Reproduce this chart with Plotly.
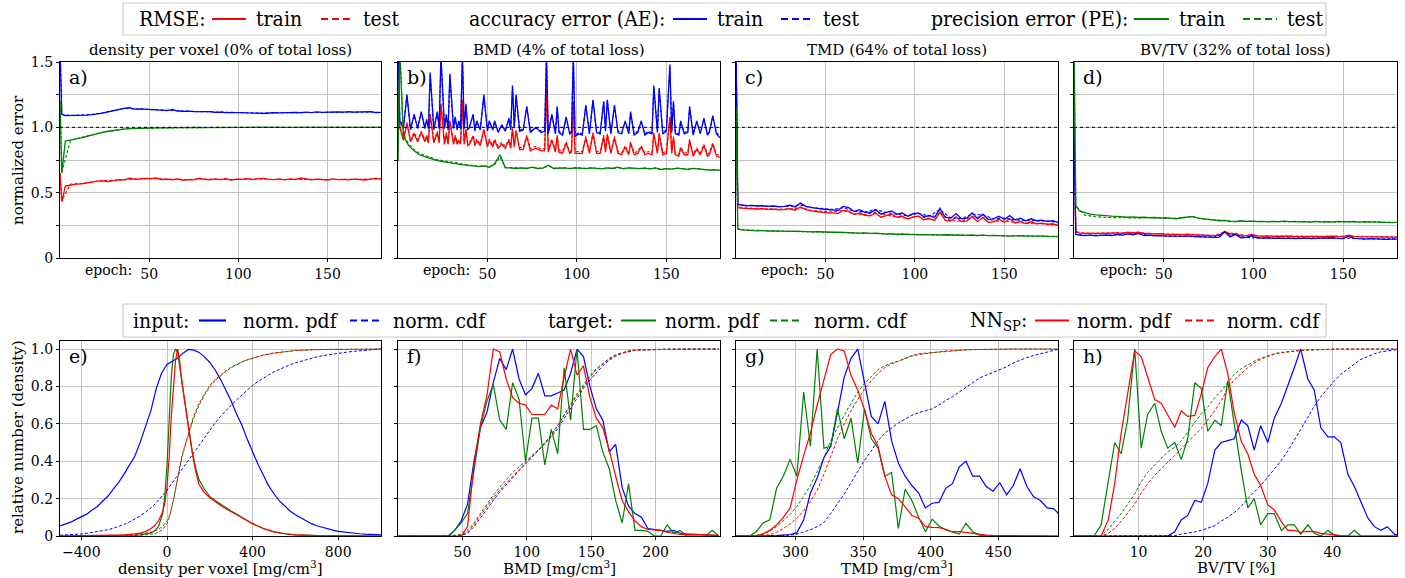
import plotly.graph_objects as go

W, H = 1405, 578

# ---------------- data: training curves (top row) ----------------
EPOCHS = [0, 1] + list(range(3, 181, 3))
EPOCHS_T = [0, 1] + list(range(6, 181, 6))

# panel a) density per voxel
RMSE_A_TRAIN = [0.65, 0.43, 0.55, 0.56, 0.565, 0.568, 0.575, 0.58, 0.588, 0.59, 0.585, 0.592, 0.6, 0.598, 0.61, 0.602, 0.605, 0.61, 0.607, 0.612, 0.6, 0.603, 0.598, 0.605, 0.595, 0.6, 0.598, 0.61, 0.602, 0.598, 0.605, 0.6, 0.608, 0.597, 0.604, 0.602, 0.608, 0.6, 0.605, 0.61, 0.602, 0.6, 0.606, 0.598, 0.605, 0.6, 0.612, 0.603, 0.598, 0.604, 0.6, 0.597, 0.605, 0.6, 0.602, 0.598, 0.604, 0.6, 0.597, 0.603, 0.61, 0.605]
RMSE_A_TEST = [0.65, 0.44, 0.566, 0.57, 0.582, 0.592, 0.594, 0.6, 0.604, 0.606, 0.608, 0.604, 0.603, 0.6, 0.605, 0.602, 0.601, 0.6, 0.603, 0.605, 0.606, 0.601, 0.602, 0.603, 0.604, 0.602, 0.6, 0.601, 0.6, 0.601, 0.603, 0.605]
AE_A_TRAIN = [1.62, 1.10, 1.09, 1.09, 1.088, 1.09, 1.093, 1.097, 1.10, 1.108, 1.118, 1.128, 1.138, 1.145, 1.15, 1.14, 1.142, 1.138, 1.136, 1.133, 1.132, 1.128, 1.137, 1.125, 1.122, 1.124, 1.12, 1.121, 1.118, 1.12, 1.115, 1.117, 1.112, 1.114, 1.111, 1.113, 1.11, 1.112, 1.109, 1.106, 1.11, 1.112, 1.11, 1.113, 1.111, 1.114, 1.112, 1.116, 1.113, 1.118, 1.115, 1.117, 1.114, 1.118, 1.116, 1.12, 1.117, 1.119, 1.116, 1.12, 1.113, 1.115]
AE_A_TEST = [1.6, 1.1, 1.09, 1.094, 1.099, 1.112, 1.13, 1.146, 1.141, 1.137, 1.134, 1.129, 1.124, 1.123, 1.12, 1.119, 1.116, 1.113, 1.112, 1.111, 1.108, 1.111, 1.112, 1.113, 1.115, 1.116, 1.116, 1.117, 1.118, 1.118, 1.117, 1.115]
PE_A_TRAIN = [1.2, 0.65, 0.895, 0.902, 0.91, 0.92, 0.93, 0.942, 0.953, 0.962, 0.97, 0.977, 0.983, 0.987, 0.99, 0.992, 0.993, 0.994, 0.995, 0.996, 0.996, 0.997, 0.997, 0.998, 0.997, 0.998, 0.998, 0.999, 0.998, 0.999, 0.999, 0.998, 0.999, 1.0, 0.999, 0.999, 1.0, 0.999, 1.0, 0.999, 1.0, 1.0, 0.999, 1.0, 0.999, 1.0, 1.0, 0.999, 1.0, 1.0, 0.999, 1.0, 1.0, 0.999, 1.0, 1.0, 0.999, 1.0, 1.0, 1.0, 1.0, 1.0]
PE_A_TEST = [1.2, 0.66, 0.903, 0.921, 0.943, 0.963, 0.978, 0.988, 0.992, 0.994, 0.996, 0.997, 0.997, 0.998, 0.998, 0.999, 0.999, 0.999, 0.999, 1.0, 1.0, 1.0, 0.999, 1.0, 1.0, 1.0, 1.0, 1.0, 0.999, 1.0, 1.0, 1.0]

# panel b) BMD  (irregular epoch grid so single-epoch spikes stay narrow)
B_EPOCHS = [0, 1, 3, 5, 7, 9, 11, 13, 15, 16,
            17, 18, 20, 22, 23, 24, 26, 27, 28, 29,
            31, 32, 33, 34, 35, 36, 37, 38, 39, 40,
            42, 43, 44, 46, 48, 50, 51, 53, 54, 56,
            58, 60, 62, 63, 64, 65, 66, 68, 70, 72,
            74, 77, 80, 82, 83, 84, 86, 88, 89, 90,
            92, 94, 96, 97, 98, 99, 101, 103, 105, 107,
            109, 111, 113, 115, 116, 117, 119, 121, 123, 125,
            127, 129, 130, 132, 134, 136, 138, 140, 142, 143,
            145, 146, 148, 150, 152, 153, 154, 155, 157, 158,
            160, 162, 163, 165, 167, 169, 171, 173, 174, 176,
            178, 180]
AE_B_TRAIN = [1.65, 1.05, 0.99, 1.25, 0.98, 1.1, 0.99, 1.12, 0.99, 1.06,
              0.99, 1.42, 0.98, 1.12, 0.99, 1.55, 0.99, 1.1, 0.98, 1.41,
              0.99, 1.08, 0.98, 1.05, 0.99, 1.55, 0.99, 1.18, 0.98, 1.0,
              1.1, 0.97, 1.05, 0.98, 1.25, 0.97, 1.05, 0.98, 1.05, 0.96,
              1.02, 0.97, 1.07, 0.98, 1.32, 1.0, 1.25, 0.97, 0.98, 1.16,
              0.96, 1.0, 0.96, 0.97, 1.55, 0.95, 1.1, 0.95, 1.16, 0.96,
              0.94, 1.08, 0.95, 0.96, 1.55, 0.93, 0.95, 0.94, 1.17, 0.95,
              1.21, 0.96, 0.95, 1.2, 0.97, 1.21, 0.95, 1.17, 0.96, 0.95,
              1.05, 0.95, 1.12, 0.94, 0.96, 1.05, 0.94, 0.96, 0.95, 1.32,
              0.96, 1.3, 0.95, 0.97, 1.48, 0.96, 1.2, 0.95, 0.94, 1.05,
              0.95, 0.96, 1.16, 0.94, 1.05, 0.95, 1.07, 0.94, 0.96, 1.09,
              0.95, 0.92]
AE_B_TEST = [1.65, 1.06, 1.0, 1.24, 0.99, 1.09, 1.0, 1.11, 1.0, 1.05,
             1.0, 1.4, 0.99, 1.11, 1.0, 1.53, 1.0, 1.09, 0.99, 1.39,
             1.0, 1.07, 0.99, 1.04, 1.0, 1.54, 1.0, 1.17, 0.99, 1.01,
             1.09, 0.98, 1.04, 0.99, 1.23, 0.98, 1.04, 0.99, 1.04, 0.97,
             1.01, 0.98, 1.06, 0.99, 1.3, 1.0, 1.24, 0.98, 0.99, 1.15,
             0.97, 1.0, 0.97, 0.98, 1.55, 0.96, 1.09, 0.96, 1.15, 0.97,
             0.95, 1.07, 0.96, 0.97, 1.55, 0.94, 0.96, 0.95, 1.16, 0.96,
             1.2, 0.97, 0.96, 1.19, 0.98, 1.2, 0.96, 1.16, 0.97, 0.96,
             1.04, 0.96, 1.11, 0.95, 0.97, 1.04, 0.95, 0.97, 0.96, 1.3,
             0.97, 1.28, 0.96, 0.98, 1.46, 0.97, 1.19, 0.96, 0.95, 1.04,
             0.96, 0.97, 1.15, 0.95, 1.04, 0.96, 1.06, 0.95, 0.97, 1.08,
             0.96, 0.93]
RMSE_B_TRAIN = [1.3, 1.0, 0.9, 1.03, 0.89, 0.95, 0.89, 0.96, 0.89, 0.93,
                0.88, 1.1, 0.88, 0.96, 0.88, 1.18, 0.87, 0.95, 0.87, 1.05,
                0.87, 0.93, 0.87, 0.9, 0.87, 1.21, 0.87, 0.98, 0.86, 0.87,
                0.93, 0.86, 0.9, 0.86, 0.98, 0.85, 0.9, 0.85, 0.9, 0.84,
                0.87, 0.84, 0.9, 0.84, 0.99, 0.85, 0.97, 0.83, 0.83, 0.93,
                0.82, 0.84, 0.82, 0.82, 1.29, 0.81, 0.9, 0.81, 0.93, 0.81,
                0.8, 0.88, 0.8, 0.81, 1.2, 0.8, 0.8, 0.8, 0.92, 0.8,
                0.95, 0.8, 0.8, 0.93, 0.81, 0.94, 0.8, 0.92, 0.8, 0.79,
                0.85, 0.79, 0.88, 0.79, 0.8, 0.85, 0.79, 0.8, 0.79, 0.95,
                0.8, 0.95, 0.79, 0.8, 1.08, 0.8, 0.92, 0.79, 0.78, 0.84,
                0.79, 0.79, 0.9, 0.78, 0.83, 0.79, 0.86, 0.78, 0.79, 0.87,
                0.78, 0.77]
RMSE_B_TEST = [1.3, 1.01, 0.915, 1.04, 0.905, 0.96, 0.905, 0.97, 0.905, 0.94,
               0.895, 1.1, 0.895, 0.97, 0.895, 1.18, 0.885, 0.96, 0.885, 1.05,
               0.885, 0.94, 0.885, 0.91, 0.885, 1.2, 0.885, 0.99, 0.875, 0.885,
               0.94, 0.875, 0.91, 0.875, 0.99, 0.865, 0.91, 0.865, 0.91, 0.855,
               0.885, 0.855, 0.91, 0.855, 0.99, 0.865, 0.98, 0.845, 0.845, 0.94,
               0.835, 0.855, 0.835, 0.835, 1.27, 0.825, 0.91, 0.825, 0.94, 0.825,
               0.815, 0.89, 0.815, 0.825, 1.19, 0.815, 0.815, 0.815, 0.93, 0.815,
               0.96, 0.815, 0.815, 0.94, 0.825, 0.95, 0.815, 0.93, 0.815, 0.805,
               0.86, 0.805, 0.89, 0.805, 0.815, 0.86, 0.805, 0.815, 0.805, 0.96,
               0.815, 0.96, 0.805, 0.815, 1.07, 0.815, 0.93, 0.805, 0.795, 0.85,
               0.805, 0.805, 0.91, 0.795, 0.84, 0.805, 0.87, 0.795, 0.805, 0.88,
               0.795, 0.785]
PE_B_TRAIN = [0.74, 1.6, 0.93, 0.86, 0.82, 0.79, 0.775, 0.76, 0.75, 0.74, 0.735, 0.728, 0.72, 0.712, 0.71, 0.705, 0.70, 0.705, 0.695, 0.72, 0.79, 0.69, 0.69, 0.685, 0.69, 0.685, 0.695, 0.685, 0.688, 0.71, 0.685, 0.688, 0.69, 0.684, 0.69, 0.688, 0.684, 0.69, 0.686, 0.682, 0.69, 0.685, 0.695, 0.683, 0.69, 0.686, 0.684, 0.688, 0.682, 0.69, 0.676, 0.684, 0.68, 0.688, 0.682, 0.678, 0.686, 0.68, 0.678, 0.672, 0.675, 0.67]
PE_B_TEST = [0.74, 1.6, 0.95, 0.87, 0.83, 0.8, 0.785, 0.77, 0.758, 0.748, 0.74, 0.733, 0.725, 0.717, 0.713, 0.708, 0.703, 0.706, 0.698, 0.715, 0.77, 0.693, 0.692, 0.688, 0.691, 0.687, 0.694, 0.687, 0.689, 0.705, 0.687, 0.689, 0.69, 0.686, 0.69, 0.688, 0.686, 0.69, 0.687, 0.684, 0.689, 0.686, 0.692, 0.685, 0.689, 0.686, 0.685, 0.688, 0.684, 0.688, 0.679, 0.684, 0.681, 0.687, 0.682, 0.679, 0.685, 0.68, 0.679, 0.674, 0.676, 0.672]

# panel c) TMD
RMSE_C_TRAIN = [1.6, 0.385, 0.382, 0.378, 0.379, 0.375, 0.377, 0.372, 0.374, 0.368, 0.37, 0.378, 0.366, 0.39, 0.37, 0.36, 0.356, 0.35, 0.346, 0.345, 0.34, 0.365, 0.358, 0.332, 0.345, 0.327, 0.322, 0.345, 0.312, 0.325, 0.335, 0.312, 0.32, 0.298, 0.315, 0.32, 0.293, 0.302, 0.288, 0.35, 0.288, 0.283, 0.315, 0.278, 0.282, 0.318, 0.278, 0.31, 0.273, 0.277, 0.297, 0.272, 0.3, 0.268, 0.28, 0.263, 0.277, 0.262, 0.267, 0.257, 0.262, 0.248]
RMSE_C_TEST = [1.6, 0.39, 0.383, 0.378, 0.376, 0.374, 0.375, 0.385, 0.366, 0.358, 0.352, 0.364, 0.338, 0.332, 0.35, 0.328, 0.316, 0.302, 0.32, 0.302, 0.35, 0.286, 0.282, 0.315, 0.31, 0.28, 0.285, 0.272, 0.267, 0.265, 0.26, 0.252]
AE_C_TRAIN = [1.65, 0.41, 0.405, 0.40, 0.402, 0.398, 0.40, 0.395, 0.398, 0.392, 0.395, 0.405, 0.39, 0.42, 0.395, 0.385, 0.38, 0.375, 0.37, 0.37, 0.365, 0.395, 0.385, 0.355, 0.37, 0.35, 0.345, 0.37, 0.335, 0.35, 0.36, 0.335, 0.345, 0.32, 0.34, 0.345, 0.315, 0.325, 0.31, 0.38, 0.31, 0.305, 0.34, 0.30, 0.305, 0.345, 0.30, 0.335, 0.295, 0.30, 0.32, 0.295, 0.325, 0.29, 0.305, 0.285, 0.30, 0.285, 0.29, 0.28, 0.285, 0.27]
AE_C_TEST = [1.65, 0.41, 0.402, 0.398, 0.396, 0.394, 0.395, 0.405, 0.386, 0.378, 0.372, 0.385, 0.358, 0.352, 0.37, 0.348, 0.336, 0.322, 0.34, 0.322, 0.37, 0.306, 0.302, 0.335, 0.33, 0.3, 0.305, 0.292, 0.287, 0.287, 0.282, 0.274]
PE_C_TRAIN = [1.15, 0.222, 0.215, 0.212, 0.21, 0.208, 0.21, 0.206, 0.208, 0.205, 0.207, 0.204, 0.206, 0.203, 0.205, 0.2, 0.202, 0.199, 0.2, 0.197, 0.198, 0.195, 0.196, 0.193, 0.19, 0.192, 0.188, 0.19, 0.186, 0.183, 0.185, 0.18, 0.182, 0.179, 0.181, 0.177, 0.179, 0.176, 0.178, 0.175, 0.178, 0.176, 0.174, 0.177, 0.173, 0.176, 0.172, 0.175, 0.171, 0.173, 0.17, 0.172, 0.168, 0.17, 0.172, 0.167, 0.169, 0.166, 0.168, 0.165, 0.167, 0.164]
PE_C_TEST = [1.15, 0.222, 0.215, 0.21, 0.207, 0.205, 0.204, 0.203, 0.2, 0.198, 0.196, 0.194, 0.19, 0.188, 0.186, 0.184, 0.182, 0.18, 0.178, 0.178, 0.176, 0.176, 0.175, 0.174, 0.173, 0.172, 0.171, 0.17, 0.169, 0.168, 0.167, 0.166]

# panel d) BV/TV
RMSE_D_TRAIN = [1.0, 0.2, 0.19, 0.188, 0.19, 0.186, 0.188, 0.19, 0.187, 0.193, 0.189, 0.197, 0.19, 0.198, 0.186, 0.188, 0.184, 0.186, 0.182, 0.184, 0.181, 0.179, 0.183, 0.178, 0.176, 0.174, 0.176, 0.172, 0.174, 0.205, 0.173, 0.188, 0.17, 0.172, 0.18, 0.169, 0.167, 0.17, 0.165, 0.167, 0.165, 0.167, 0.164, 0.165, 0.167, 0.163, 0.165, 0.163, 0.166, 0.168, 0.165, 0.163, 0.175, 0.165, 0.163, 0.161, 0.163, 0.161, 0.162, 0.159, 0.16, 0.16]
RMSE_D_TEST = [1.0, 0.202, 0.19, 0.188, 0.19, 0.192, 0.196, 0.197, 0.187, 0.185, 0.183, 0.18, 0.178, 0.175, 0.173, 0.2, 0.187, 0.171, 0.169, 0.169, 0.167, 0.166, 0.165, 0.165, 0.164, 0.166, 0.165, 0.165, 0.163, 0.162, 0.161, 0.161]
AE_D_TRAIN = [1.0, 0.18, 0.175, 0.172, 0.175, 0.17, 0.173, 0.176, 0.172, 0.18, 0.175, 0.185, 0.178, 0.188, 0.172, 0.175, 0.17, 0.172, 0.168, 0.17, 0.168, 0.165, 0.17, 0.165, 0.163, 0.16, 0.162, 0.158, 0.16, 0.2, 0.16, 0.18, 0.155, 0.158, 0.17, 0.155, 0.152, 0.155, 0.15, 0.153, 0.15, 0.152, 0.148, 0.15, 0.152, 0.148, 0.15, 0.148, 0.152, 0.155, 0.15, 0.148, 0.165, 0.15, 0.148, 0.145, 0.148, 0.145, 0.147, 0.143, 0.145, 0.145]
AE_D_TEST = [1.0, 0.182, 0.174, 0.172, 0.174, 0.178, 0.184, 0.186, 0.174, 0.171, 0.169, 0.166, 0.166, 0.161, 0.159, 0.195, 0.178, 0.157, 0.154, 0.154, 0.152, 0.151, 0.15, 0.149, 0.149, 0.152, 0.15, 0.151, 0.147, 0.146, 0.145, 0.146]
PE_D_TRAIN = [1.65, 0.40, 0.36, 0.345, 0.335, 0.33, 0.325, 0.322, 0.32, 0.318, 0.315, 0.312, 0.315, 0.31, 0.312, 0.308, 0.31, 0.305, 0.308, 0.305, 0.30, 0.308, 0.312, 0.318, 0.305, 0.30, 0.295, 0.29, 0.285, 0.288, 0.28, 0.278, 0.285, 0.28, 0.282, 0.278, 0.28, 0.276, 0.28, 0.278, 0.282, 0.278, 0.28, 0.276, 0.279, 0.275, 0.28, 0.277, 0.279, 0.275, 0.28, 0.278, 0.276, 0.28, 0.275, 0.278, 0.276, 0.273, 0.276, 0.272, 0.27, 0.272]
PE_D_TEST = [1.65, 0.4, 0.328, 0.316, 0.31, 0.308, 0.306, 0.306, 0.31, 0.306, 0.304, 0.306, 0.316, 0.298, 0.29, 0.286, 0.28, 0.282, 0.28, 0.279, 0.279, 0.279, 0.277, 0.277, 0.278, 0.277, 0.279, 0.277, 0.276, 0.275, 0.274, 0.272]

# ---------------- data: distributions (bottom row) ----------------
# e) density per voxel
E_X_IN = list(range(-500, 1001, 25))
E_IN_PDF = [0.054, 0.064, 0.074, 0.089, 0.101, 0.117, 0.139, 0.158, 0.187, 0.214, 0.252, 0.288, 0.332, 0.378, 0.428, 0.502, 0.588, 0.672, 0.79, 0.872, 0.918, 0.935, 0.952, 0.978, 0.998, 0.994, 0.982, 0.958, 0.928, 0.888, 0.838, 0.779, 0.722, 0.652, 0.592, 0.518, 0.448, 0.384, 0.326, 0.268, 0.226, 0.188, 0.161, 0.134, 0.114, 0.097, 0.081, 0.066, 0.055, 0.046, 0.038, 0.031, 0.025, 0.021, 0.017, 0.014, 0.012, 0.01, 0.008, 0.007, 0.006]
E_IN_CDF = [0.004, 0.005, 0.007, 0.009, 0.011, 0.014, 0.018, 0.022, 0.028, 0.034, 0.042, 0.051, 0.062, 0.075, 0.09, 0.108, 0.128, 0.15, 0.178, 0.21, 0.245, 0.285, 0.325, 0.367, 0.41, 0.45, 0.49, 0.53, 0.57, 0.605, 0.64, 0.672, 0.70, 0.728, 0.755, 0.78, 0.806, 0.826, 0.845, 0.862, 0.878, 0.892, 0.905, 0.916, 0.926, 0.935, 0.943, 0.951, 0.958, 0.964, 0.969, 0.974, 0.978, 0.982, 0.985, 0.988, 0.991, 0.993, 0.995, 0.997, 1.0]
E_X_NN = [-500, -300, -200, -150, -125, -100, -80, -60, -40, -20, -10, 0, 10, 20, 30, 40, 50, 60, 70, 80, 90, 100, 110, 120, 135, 150, 175, 200, 225, 250, 275, 300, 325, 350, 375, 400, 450, 500, 550, 600, 700, 800, 1000]
E_TG_PDF = [0, 0, 0.002, 0.004, 0.006, 0.01, 0.015, 0.025, 0.05, 0.12, 0.22, 0.38, 0.62, 0.85, 0.97, 1.0, 0.98, 0.9, 0.8, 0.73, 0.665, 0.59, 0.51, 0.44, 0.36, 0.3, 0.25, 0.212, 0.19, 0.17, 0.152, 0.134, 0.118, 0.1, 0.083, 0.066, 0.04, 0.022, 0.012, 0.006, 0.002, 0.001, 0.0]
E_TG_CDF = [0, 0, 0.001, 0.002, 0.004, 0.006, 0.009, 0.012, 0.02, 0.035, 0.05, 0.065, 0.095, 0.14, 0.195, 0.25, 0.31, 0.37, 0.42, 0.462, 0.503, 0.54, 0.58, 0.615, 0.66, 0.70, 0.752, 0.797, 0.832, 0.858, 0.88, 0.9, 0.916, 0.93, 0.942, 0.951, 0.967, 0.978, 0.986, 0.992, 0.997, 0.999, 1.0]
E_NN_PDF = [0, 0.002, 0.006, 0.011, 0.015, 0.025, 0.036, 0.052, 0.08, 0.13, 0.18, 0.26, 0.42, 0.64, 0.82, 0.94, 1.0, 0.93, 0.82, 0.74, 0.665, 0.575, 0.5, 0.43, 0.34, 0.275, 0.232, 0.205, 0.185, 0.163, 0.146, 0.13, 0.113, 0.097, 0.081, 0.066, 0.04, 0.022, 0.012, 0.006, 0.002, 0.001, 0.0]
E_NN_CDF = [0, 0.001, 0.004, 0.007, 0.01, 0.014, 0.019, 0.026, 0.036, 0.052, 0.064, 0.08, 0.105, 0.14, 0.19, 0.25, 0.32, 0.385, 0.43, 0.47, 0.51, 0.55, 0.59, 0.625, 0.67, 0.71, 0.76, 0.805, 0.838, 0.862, 0.884, 0.903, 0.918, 0.932, 0.943, 0.952, 0.968, 0.979, 0.987, 0.992, 0.997, 0.999, 1.0]

# f) BMD
F_X = [0] + list(range(39, 250, 5))
F_IN_PDF = [0, 0.0, 0.03, 0.08, 0.17, 0.40, 0.58, 0.66, 0.82, 0.95, 0.89, 1.0, 0.84, 0.755, 0.79, 0.87, 0.75, 0.75, 0.765, 0.78, 0.87, 1.0, 0.96, 0.80, 0.68, 0.62, 0.45, 0.49, 0.26, 0.16, 0.12, 0.10, 0.04, 0.035, 0.033, 0.025, 0.03, 0.015, 0.012, 0.01, 0.007, 0.005, 0.003, 0.002]
F_IN_CDF = [0, 0, 0.001, 0.003, 0.015, 0.05, 0.095, 0.145, 0.19, 0.235, 0.275, 0.315, 0.35, 0.385, 0.42, 0.455, 0.49, 0.53, 0.575, 0.63, 0.685, 0.74, 0.79, 0.835, 0.875, 0.91, 0.94, 0.962, 0.977, 0.987, 0.993, 0.996, 0.997, 0.998, 0.998, 0.999, 0.999, 1.0, 1.0, 1.0, 1.0, 1.0, 1.0, 1.0]
F_TG_PDF = [0, 0, 0.03, 0.07, 0.12, 0.36, 0.58, 0.72, 0.81, 0.62, 0.57, 0.82, 0.73, 0.40, 0.63, 0.63, 0.38, 0.57, 0.44, 0.90, 0.62, 1.0, 0.57, 0.57, 0.59, 0.45, 0.36, 0.19, 0.07, 0.28, 0.03, 0.03, 0.025, 0.0, 0.0, 0.06, 0.015, 0.03, 0.0, 0.0, 0.0, 0.0, 0.03, 0.0]
F_TG_CDF = [0, 0, 0.002, 0.01, 0.03, 0.07, 0.12, 0.175, 0.22, 0.26, 0.30, 0.34, 0.37, 0.40, 0.43, 0.46, 0.50, 0.54, 0.59, 0.65, 0.705, 0.76, 0.81, 0.857, 0.895, 0.925, 0.95, 0.97, 0.982, 0.99, 0.994, 0.996, 0.997, 0.998, 0.998, 0.999, 0.999, 1.0, 1.0, 1.0, 1.0, 1.0, 1.0, 1.0]
F_NN_PDF = [0, 0, 0, 0.0, 0.05, 0.38, 0.60, 0.75, 1.0, 0.985, 0.84, 0.74, 0.71, 0.70, 0.65, 0.65, 0.65, 0.70, 0.68, 0.85, 1.0, 0.86, 0.91, 0.74, 0.63, 0.58, 0.46, 0.32, 0.19, 0.13, 0.08, 0.05, 0.035, 0.033, 0.03, 0.02, 0.012, 0.008, 0.007, 0.009, 0.008, 0.006, 0.004, 0.003]
F_NN_CDF = [0, 0, 0.001, 0.004, 0.02, 0.06, 0.11, 0.16, 0.205, 0.245, 0.285, 0.32, 0.355, 0.39, 0.425, 0.46, 0.495, 0.54, 0.59, 0.645, 0.70, 0.75, 0.80, 0.85, 0.89, 0.92, 0.947, 0.967, 0.98, 0.989, 0.994, 0.996, 0.997, 0.998, 0.998, 0.999, 0.999, 1.0, 1.0, 1.0, 1.0, 1.0, 1.0, 1.0]

# g) TMD
G_X = list(range(256, 497, 5))
G_IN_PDF = [0, 0, 0, 0, 0, 0, 0.002, 0.005, 0.008, 0.018, 0.086, 0.23, 0.31, 0.42, 0.48, 0.66, 0.85, 0.95, 1.0, 0.82, 0.64, 0.60, 0.72, 0.51, 0.39, 0.32, 0.27, 0.23, 0.15, 0.175, 0.18, 0.255, 0.28, 0.37, 0.40, 0.32, 0.32, 0.265, 0.24, 0.285, 0.22, 0.27, 0.36, 0.265, 0.21, 0.19, 0.15, 0.145, 0.107]
G_IN_CDF = [0, 0, 0, 0, 0, 0, 0.001, 0.002, 0.004, 0.01, 0.02, 0.033, 0.05, 0.072, 0.12, 0.17, 0.225, 0.285, 0.345, 0.405, 0.455, 0.51, 0.55, 0.58, 0.605, 0.625, 0.645, 0.66, 0.67, 0.68, 0.70, 0.725, 0.745, 0.77, 0.795, 0.82, 0.845, 0.86, 0.875, 0.89, 0.905, 0.925, 0.94, 0.955, 0.965, 0.975, 0.985, 0.993, 1.0]
G_TG_PDF = [0, 0, 0, 0.023, 0.07, 0.086, 0.255, 0.32, 0.41, 0.32, 0.77, 0.48, 1.0, 0.47, 0.48, 0.68, 0.52, 0.63, 0.39, 0.68, 0.52, 0.47, 0.32, 0.34, 0.04, 0.25, 0.19, 0.10, 0.023, 0.09, 0.054, 0.032, 0.023, 0.01, 0.068, 0.023, 0.005, 0, 0, 0, 0, 0, 0, 0, 0, 0, 0, 0, 0]
G_TG_CDF = [0, 0, 0, 0.003, 0.012, 0.025, 0.05, 0.08, 0.115, 0.157, 0.21, 0.27, 0.345, 0.42, 0.51, 0.58, 0.645, 0.71, 0.77, 0.815, 0.855, 0.89, 0.91, 0.925, 0.935, 0.95, 0.965, 0.975, 0.978, 0.982, 0.985, 0.99, 0.992, 0.993, 0.995, 0.997, 0.998, 0.999, 0.999, 1.0, 1.0, 1.0, 1.0, 1.0, 1.0, 1.0, 1.0, 1.0, 1.0]
G_NN_PDF = [0, 0, 0, 0.002, 0.01, 0.03, 0.06, 0.10, 0.15, 0.30, 0.43, 0.55, 0.70, 0.84, 0.97, 1.0, 0.99, 0.86, 0.78, 0.675, 0.55, 0.48, 0.32, 0.22, 0.20, 0.157, 0.11, 0.095, 0.05, 0.046, 0.045, 0.036, 0.023, 0.023, 0.018, 0.011, 0.007, 0.005, 0.003, 0.002, 0.002, 0.001, 0.001, 0.001, 0.001, 0.0, 0.001, 0.0, 0.0]
G_NN_CDF = [0, 0, 0, 0, 0.002, 0.007, 0.02, 0.04, 0.065, 0.095, 0.135, 0.185, 0.245, 0.33, 0.43, 0.52, 0.60, 0.67, 0.73, 0.785, 0.83, 0.87, 0.90, 0.92, 0.935, 0.95, 0.962, 0.97, 0.976, 0.981, 0.985, 0.989, 0.992, 0.994, 0.996, 0.997, 0.998, 0.999, 0.999, 1.0, 1.0, 1.0, 1.0, 1.0, 1.0, 1.0, 1.0, 1.0, 1.0]

# h) BV/TV
H_X = [0, 1.0, 2.1, 3.1, 4.2, 5.3, 6.3, 7.3, 8.3, 9.4, 10.4, 11.4, 12.5, 13.5, 14.5, 15.6, 16.6, 17.6, 18.7, 19.7, 20.7, 21.8, 22.8, 23.8, 24.8, 25.9, 26.9, 27.9, 28.9, 30.0, 31.0, 32.1, 33.1, 34.1, 35.1, 36.2, 37.2, 38.2, 39.3, 40.3, 41.3, 42.4, 43.4, 44.4, 45.5, 46.5, 47.5, 48.5, 49.6, 50.6]
H_IN_PDF = [0, 0, 0, 0, 0, 0, 0, 0, 0, 0, 0, 0, 0, 0, 0, 0.023, 0.086, 0.11, 0.19, 0.18, 0.28, 0.46, 0.50, 0.51, 0.52, 0.62, 0.59, 0.46, 0.59, 0.50, 0.63, 0.71, 0.80, 0.90, 1.0, 0.84, 0.78, 0.58, 0.53, 0.53, 0.50, 0.33, 0.265, 0.18, 0.095, 0.05, 0.03, 0.05, 0.01, 0.0]
H_IN_CDF = [0, 0, 0, 0, 0, 0, 0, 0, 0, 0, 0, 0, 0, 0, 0, 0.002, 0.01, 0.015, 0.022, 0.03, 0.04, 0.055, 0.08, 0.1, 0.125, 0.16, 0.2, 0.235, 0.27, 0.315, 0.355, 0.405, 0.455, 0.51, 0.57, 0.635, 0.695, 0.745, 0.79, 0.83, 0.865, 0.895, 0.92, 0.945, 0.96, 0.975, 0.985, 0.99, 0.997, 1.0]
H_TG_PDF = [0, 0, 0, 0, 0.06, 0.28, 0.50, 0.44, 0.62, 1.0, 0.47, 0.65, 0.71, 0.56, 0.47, 0.50, 0.41, 0.52, 0.82, 0.79, 0.56, 0.62, 0.59, 0.83, 0.59, 0.35, 0.15, 0.20, 0.06, 0.12, 0.12, 0.03, 0.06, 0.06, 0.01, 0.06, 0.014, 0.0, 0.03, 0.005, 0, 0, 0.03, 0, 0, 0, 0, 0, 0, 0]
H_TG_CDF = [0, 0, 0, 0, 0.0, 0.036, 0.077, 0.12, 0.17, 0.225, 0.29, 0.34, 0.38, 0.415, 0.45, 0.475, 0.51, 0.555, 0.61, 0.655, 0.69, 0.74, 0.775, 0.82, 0.865, 0.895, 0.915, 0.935, 0.95, 0.965, 0.975, 0.982, 0.986, 0.989, 0.992, 0.994, 0.996, 0.997, 0.998, 0.999, 1.0, 1.0, 1.0, 1.0, 1.0, 1.0, 1.0, 1.0, 1.0, 1.0]
H_NN_PDF = [0, 0, 0, 0, 0, 0.086, 0.28, 0.55, 0.75, 0.99, 0.96, 0.85, 0.73, 0.71, 0.65, 0.58, 0.67, 0.64, 0.645, 0.76, 0.90, 0.96, 1.0, 0.87, 0.66, 0.505, 0.44, 0.33, 0.27, 0.166, 0.14, 0.077, 0.03, 0.03, 0.02, 0.025, 0.023, 0.014, 0.01, 0.005, 0.002, 0, 0, 0, 0, 0, 0, 0, 0, 0]
H_NN_CDF = [0, 0, 0, 0, 0, 0.014, 0.04, 0.08, 0.12, 0.17, 0.23, 0.28, 0.325, 0.36, 0.395, 0.43, 0.465, 0.5, 0.54, 0.575, 0.62, 0.67, 0.725, 0.79, 0.835, 0.87, 0.9, 0.925, 0.945, 0.96, 0.972, 0.98, 0.985, 0.99, 0.993, 0.995, 0.997, 0.998, 0.999, 1.0, 1.0, 1.0, 1.0, 1.0, 1.0, 1.0, 1.0, 1.0, 1.0, 1.0]

TOP_TITLES = ["density per voxel (0% of total loss)", "BMD (4% of total loss)",
              "TMD (64% of total loss)", "BV/TV (32% of total loss)"]
BOT_XLABELS = ["density per voxel [mg/cm<sup>3</sup>]", "BMD [mg/cm<sup>3</sup>]",
               "TMD [mg/cm<sup>3</sup>]", "BV/TV [%]"]
TOP_LETTERS = ["a)", "b)", "c)", "d)"]
BOT_LETTERS = ["e)", "f)", "g)", "h)"]
TOP_XTICKS = [50, 100, 150]
BOT_XTICKS = [[-400, 0, 400, 800], [50, 100, 150, 200], [300, 350, 400, 450], [10, 20, 30, 40]]
BOT_XRANGES = [[-500, 1000], [0, 250], [256, 494], [0, 50]]
TOP_YTICKS = [0, 0.25, 0.5, 0.75, 1.0, 1.25, 1.5]
TOP_YTEXT = ["0", "", "0.5", "", "1.0", "", "1.5"]
BOT_YTICKS = [0, 0.2, 0.4, 0.6, 0.8, 1.0]
BOT_YTEXT = ["0", "0.2", "0.4", "0.6", "0.8", "1.0"]

# ---------------- styling / layout ----------------
RED, BLUE, GREEN = "#ff0000", "#0000ff", "#008000"
FONT = "DejaVu Serif"
LFONT = "DejaVu Serif Condensed, Liberation Serif, serif"
GRID = "#c4c4c4"

# positions in window pixels
COLS = [(60, 381), (398, 720), (736, 1058), (1074, 1397)]
TOP_Y = (62, 258)
BOT_Y = (341, 536)


def px(x):
    return x / W


def py(y):
    return 1 - y / H


fig = go.Figure()


def line(i, x, y, color, dash="solid", width=1.3):
    fig.add_trace(go.Scatter(
        x=x, y=y, mode="lines", showlegend=False, hoverinfo="skip",
        line=dict(color=color, width=width, dash=dash),
        xaxis="x" if i == 1 else f"x{i}", yaxis="y" if i == 1 else f"y{i}"))


TD = "3px,2px"
top_series = [
    (EPOCHS, EPOCHS_T, RMSE_A_TRAIN, RMSE_A_TEST, AE_A_TRAIN, AE_A_TEST, EPOCHS, EPOCHS_T, PE_A_TRAIN, PE_A_TEST),
    (B_EPOCHS, B_EPOCHS, RMSE_B_TRAIN, RMSE_B_TEST, AE_B_TRAIN, AE_B_TEST, EPOCHS, EPOCHS, PE_B_TRAIN, PE_B_TEST),
    (EPOCHS, EPOCHS_T, RMSE_C_TRAIN, RMSE_C_TEST, AE_C_TRAIN, AE_C_TEST, EPOCHS, EPOCHS_T, PE_C_TRAIN, PE_C_TEST),
    (EPOCHS, EPOCHS_T, RMSE_D_TRAIN, RMSE_D_TEST, AE_D_TRAIN, AE_D_TEST, EPOCHS, EPOCHS_T, PE_D_TRAIN, PE_D_TEST),
]
for k, (e1, e2, rtr, rte, atr, ate, pe1, pe2, ptr, pte) in enumerate(top_series):
    i = k + 1
    line(i, e1, rtr, RED)
    line(i, e2, rte, RED, TD, 1.1)
    line(i, e1, atr, BLUE)
    line(i, e2, ate, BLUE, TD, 1.1)
    line(i, pe1, ptr, GREEN)
    line(i, pe2, pte, GREEN, TD, 1.1)

bot_series = [
    (E_X_IN, E_IN_PDF, E_IN_CDF, E_X_NN, E_TG_PDF, E_TG_CDF, E_NN_PDF, E_NN_CDF),
    (F_X, F_IN_PDF, F_IN_CDF, F_X, F_TG_PDF, F_TG_CDF, F_NN_PDF, F_NN_CDF),
    (G_X, G_IN_PDF, G_IN_CDF, G_X, G_TG_PDF, G_TG_CDF, G_NN_PDF, G_NN_CDF),
    (H_X, H_IN_PDF, H_IN_CDF, H_X, H_TG_PDF, H_TG_CDF, H_NN_PDF, H_NN_CDF),
]
for k, (xin, ipdf, icdf, xnn, tpdf, tcdf, npdf, ncdf) in enumerate(bot_series):
    i = k + 5
    line(i, xin, ipdf, BLUE, width=1.2)
    line(i, xin, icdf, BLUE, TD, 1.0)
    line(i, xnn, tpdf, GREEN, width=1.2)
    line(i, xnn, tcdf, GREEN, TD, 1.0)
    line(i, xnn, npdf, RED, width=1.2)
    line(i, xnn, ncdf, RED, TD, 1.0)

axis_common = dict(showline=True, linecolor="black", linewidth=1.3, mirror=True,
                   showgrid=True, gridcolor=GRID, gridwidth=1.2, zeroline=False,
                   ticks="outside", ticklen=3, tickcolor="black", automargin=False,
                   tickfont=dict(family=FONT, size=14, color="black"))

layout = dict(width=W, height=H, margin=dict(l=0, r=0, t=0, b=0, pad=0, autoexpand=False),
              paper_bgcolor="white", plot_bgcolor="white", showlegend=False)

shapes = []
annotations = []


def note(text, x, y, size=15, xanchor="center", yanchor="middle", angle=0, family=FONT):
    annotations.append(dict(text=text, x=px(x), y=py(y), xref="paper", yref="paper",
                            xanchor=xanchor, yanchor=yanchor, textangle=angle, showarrow=False,
                            font=dict(family=family, size=size, color="black")))


for k in range(4):
    x0, x1 = COLS[k]
    # top
    i = k + 1
    xa = "xaxis" if i == 1 else f"xaxis{i}"
    ya = "yaxis" if i == 1 else f"yaxis{i}"
    layout[xa] = dict(axis_common, domain=[px(x0), px(x1)], range=[0, 180],
                      tickvals=TOP_XTICKS, anchor="y" if i == 1 else f"y{i}")
    layout[ya] = dict(axis_common, domain=[py(TOP_Y[1]), py(TOP_Y[0])], range=[0, 1.5],
                      tickvals=TOP_YTICKS,
                      ticktext=TOP_YTEXT if k == 0 else [""] * len(TOP_YTICKS),
                      anchor="x" if i == 1 else f"x{i}")
    shapes.append(dict(type="line", xref=("x" if i == 1 else f"x{i}") + " domain", x0=0, x1=1,
                       yref="y" if i == 1 else f"y{i}", y0=1, y1=1,
                       line=dict(color="black", width=1, dash="dot"), layer="above"))
    note(TOP_TITLES[k], (x0 + x1) / 2, 50)
    note(TOP_LETTERS[k], x0 + 7, 77, size=19, xanchor="left")
    tick50 = x0 + (x1 - x0) * 50 / 180
    note("epoch:", tick50 - 15, 270, size=14, xanchor="right")
    # bottom
    i = k + 5
    xa, ya = f"xaxis{i}", f"yaxis{i}"
    layout[xa] = dict(axis_common, domain=[px(x0), px(x1)], range=BOT_XRANGES[k],
                      tickvals=BOT_XTICKS[k], anchor=f"y{i}")
    layout[ya] = dict(axis_common, domain=[py(BOT_Y[1]), py(BOT_Y[0])], range=[0, 1.043],
                      tickvals=BOT_YTICKS,
                      ticktext=BOT_YTEXT if k == 0 else [""] * len(BOT_YTICKS),
                      anchor=f"x{i}")
    note(BOT_XLABELS[k], (x0 + x1) / 2, 568)
    note(BOT_LETTERS[k], x0 + 7, 356, size=19, xanchor="left")

note("normalized error", 18, 160, angle=-90)
note("relative number (density)", 18, 437, angle=-90)


# ---------------- legends ----------------
def legend_box(y0, y1, texts, samples):
    shapes.append(dict(type="rect", xref="paper", yref="paper", x0=px(123), x1=px(1326),
                       y0=py(y1), y1=py(y0), line=dict(color="#cccccc", width=1.2),
                       fillcolor="white", layer="above"))
    yc = (y0 + y1) / 2
    for xl, t in texts:
        note(t, xl, yc, size=21, xanchor="left", family=LFONT)
    for xa_, xb_, c, d in samples:
        shapes.append(dict(type="line", xref="paper", yref="paper", x0=px(xa_), x1=px(xb_),
                           y0=py(yc), y1=py(yc), layer="above",
                           line=dict(color=c, width=2.2, dash=("solid" if d == "s" else "7px,4px"))))


legend_box(3, 35,
           [(137, "RMSE:"), (254, "train"), (361, "test"),
            (467, "accuracy error (AE):"), (715, "train"), (821, "test"),
            (929, "precision error (PE):"), (1177, "train"), (1285, "test")],
           [(212, 246, RED, "s"), (321, 353, RED, "d"),
            (673, 707, BLUE, "s"), (781, 813, BLUE, "d"),
            (1134, 1169, GREEN, "s"), (1243, 1277, GREEN, "d")])
legend_box(304, 337,
           [(131, "input:"), (241, "norm. pdf"), (391, "norm. cdf"),
            (546, "target:"), (663, "norm. pdf"), (812, "norm. cdf"),
            (968, "NN<sub>SP</sub>:"), (1075, "norm. pdf"), (1225, "norm. cdf")],
           [(199, 226, BLUE, "s"), (350, 381, BLUE, "d"),
            (621, 656, GREEN, "s"), (770, 803, GREEN, "d"),
            (1035, 1069, RED, "s"), (1185, 1217, RED, "d")])

layout["shapes"] = shapes
layout["annotations"] = annotations
fig.update_layout(**layout)
fig.write_html("out.html",
               config={"displayModeBar": False},
               post_script="document.body.style.margin='0';document.body.style.overflow='hidden';")
